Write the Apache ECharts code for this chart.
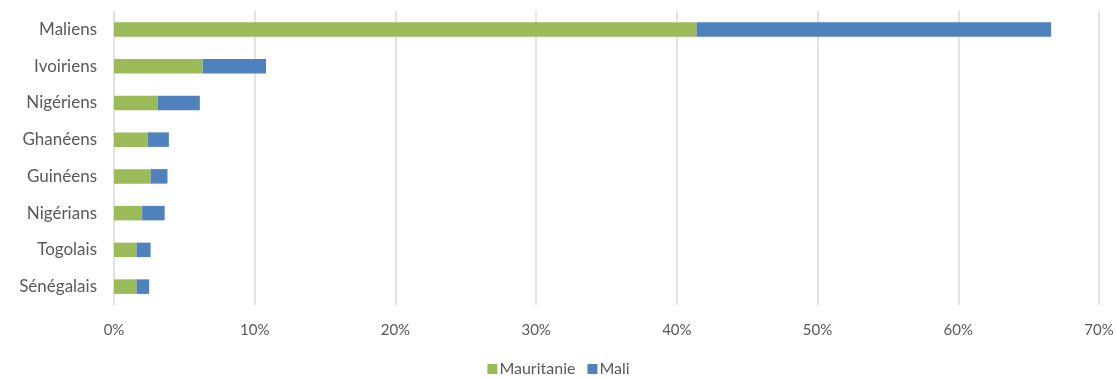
<!DOCTYPE html>
<html><head><meta charset="utf-8">
<script src="https://cdn.jsdelivr.net/npm/echarts@6/dist/echarts.min.js"></script>
<style>html,body{margin:0;padding:0;background:#fff}#c{width:1117px;height:379px}</style>
</head><body><div id="c"></div>
<script>
const categories = ['Maliens','Ivoiriens','Nigériens','Ghanéens','Guinéens','Nigérians','Togolais','Sénégalais'];
const mauritanie = [41.4, 6.3, 3.1, 2.4, 2.6, 2.0, 1.6, 1.6];
const mali = [25.2, 4.5, 3.0, 1.5, 1.2, 1.6, 1.0, 0.9];
const xTicks = { min: 0, max: 70, interval: 10 };

const chart = echarts.init(document.getElementById('c'));
const font = 'Lato, "Open Sans", sans-serif';
chart.setOption({
  animation: false,
  textStyle: { fontFamily: font },
  grid: { left: 114, right: 18, top: 11, height: 294 },
  legend: {
    top: 361, left: 'center', padding: 0, itemWidth: 10, itemHeight: 10, itemGap: 12,
    icon: 'rect',
    textStyle: { color: '#595959', fontSize: 16, fontFamily: font, padding: [0,0,0,-3] },
    data: ['Mauritanie','Mali']
  },
  xAxis: {
    type: 'value', min: xTicks.min, max: xTicks.max, interval: xTicks.interval,
    axisLine: { show: false }, axisTick: { show: false },
    splitLine: { lineStyle: { color: '#d9d9d9', width: 1.5 } },
    axisLabel: { formatter: '{value}%', color: '#595959', fontSize: 15, margin: 18 }
  },
  yAxis: {
    type: 'category', data: categories, inverse: true,
    axisLine: { show: false }, axisTick: { show: false },
    axisLabel: { color: '#595959', fontSize: 17, margin: 17 }
  },
  series: [
    { name: 'Mauritanie', type: 'bar', stack: 's', data: mauritanie, barWidth: 14.5,
      itemStyle: { color: '#9BBB59' } },
    { name: 'Mali', type: 'bar', stack: 's', data: mali, barWidth: 14.5,
      itemStyle: { color: '#4F81BD' } }
  ]
});
</script></body></html>
